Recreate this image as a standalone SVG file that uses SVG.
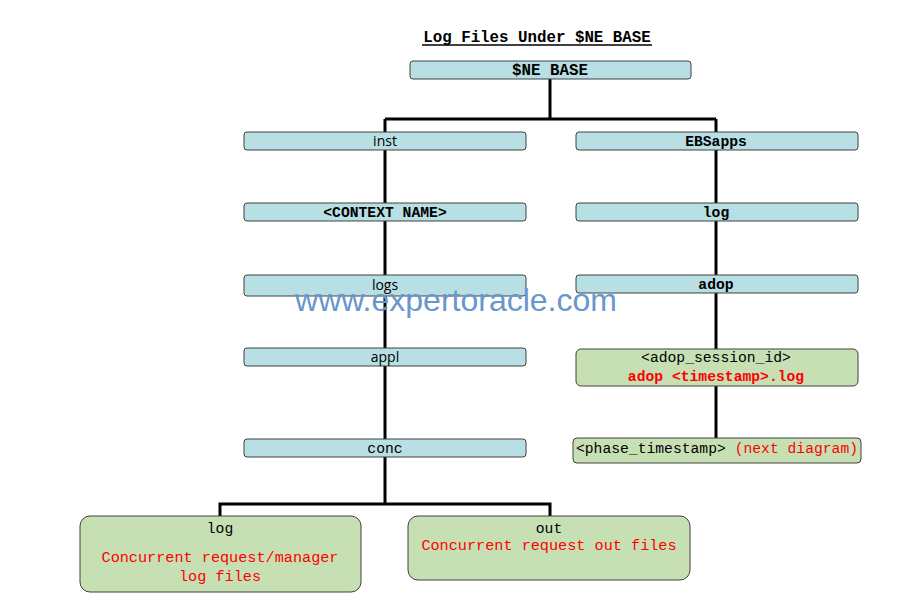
<svg xmlns="http://www.w3.org/2000/svg" width="910" height="607" viewBox="0 0 910 607">
<style>
.blue{fill:#b8dfe3;stroke:#404040;stroke-width:1}
.green{fill:#c6e0b4;stroke:#404040;stroke-width:1}
.mono{font-family:"Liberation Mono","Courier New",monospace;font-size:14.7px;fill:#000}
.b{font-weight:bold}
.sans{font-family:"Open Sans","Liberation Sans",sans-serif;font-size:14px;fill:#000}
.red{fill:#ff0000}
.conn{stroke:#000;stroke-width:3;fill:none}
</style>
<rect width="910" height="607" fill="#fff"/>
<g id="title">
<text x="537" y="42" text-anchor="middle" class="mono b" style="font-size:15.8px">Log Files Under $NE BASE</text>
<line x1="422" y1="45" x2="652" y2="45" stroke="#000" stroke-width="1.5"/>
</g>
<g id="connectors">
<path class="conn" d="M550,79 V119 M385,119 H716 M385,119 V504 M716,119 V438 M220,504 H550 M220,502.5 V516 M550,502.5 V516"/>
</g>
<g id="ne_base"><rect class="blue" x="410" y="61" width="281" height="18" rx="3"/><text x="550" y="75" text-anchor="middle" class="mono b" style="font-size:15.8px">$NE BASE</text></g>
<g id="inst"><rect class="blue" x="244" y="132" width="282" height="18" rx="3"/><text x="385" y="146" text-anchor="middle" class="sans">inst</text></g>
<g id="ebsapps"><rect class="blue" x="576" y="132" width="282" height="18" rx="3"/><text x="716" y="146" text-anchor="middle" class="mono b">EBSapps</text></g>
<g id="context_name"><rect class="blue" x="244" y="203" width="282" height="18" rx="3"/><text x="385" y="217" text-anchor="middle" class="mono b">&lt;CONTEXT NAME&gt;</text></g>
<g id="log_r"><rect class="blue" x="576" y="203" width="282" height="18" rx="3"/><text x="716" y="217" text-anchor="middle" class="mono b">log</text></g>
<g id="logs"><rect class="blue" x="244" y="275" width="282" height="21" rx="3"/><text x="385" y="290" text-anchor="middle" class="sans">logs</text></g>
<g id="adop"><rect class="blue" x="576" y="275" width="282" height="18" rx="3"/><text x="716" y="289" text-anchor="middle" class="mono b">adop</text></g>
<g id="appl"><rect class="blue" x="244" y="348" width="282" height="18" rx="3"/><text x="385" y="362" text-anchor="middle" class="sans">appl</text></g>
<g id="adop_session"><rect class="green" x="576" y="349" width="282" height="37" rx="5"/><text x="716" y="362" text-anchor="middle" class="mono">&lt;adop_session_id&gt;</text><text x="716" y="381" text-anchor="middle" class="mono b red">adop &lt;timestamp&gt;.log</text></g>
<g id="conc"><rect class="blue" x="244" y="439" width="282" height="18" rx="3"/><text x="385" y="453" text-anchor="middle" class="mono">conc</text></g>
<g id="phase"><rect class="green" x="573" y="438" width="288" height="25" rx="4"/><text x="717" y="453" text-anchor="middle" class="mono">&lt;phase_timestamp&gt; <tspan class="red">(next diagram)</tspan></text></g>
<g id="log_l"><rect class="green" x="80" y="516" width="281" height="76" rx="10"/><text x="220" y="533" text-anchor="middle" class="mono">log</text><text x="220" y="562" text-anchor="middle" class="mono red" style="font-size:15.2px">Concurrent request/manager</text><text x="220" y="581" text-anchor="middle" class="mono red" style="font-size:15.2px">log files</text></g>
<g id="out"><rect class="green" x="408" y="516" width="282" height="64" rx="10"/><text x="549" y="533" text-anchor="middle" class="mono">out</text><text x="549" y="550" text-anchor="middle" class="mono red" style="font-size:15.2px">Concurrent request out files</text></g>
<g id="watermark"><text x="456" y="311" text-anchor="middle" style="font-family:'Liberation Sans',Arial,sans-serif;font-size:32px;fill:#6897cb">www.expertoracle.com</text></g>
</svg>
